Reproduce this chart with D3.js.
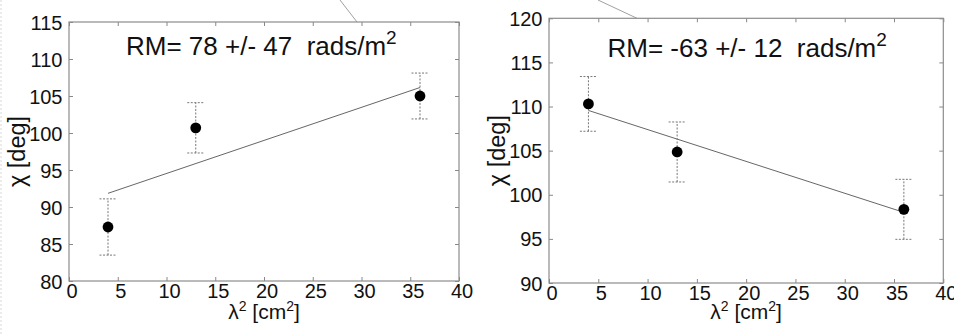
<!DOCTYPE html>
<html>
<head>
<meta charset="utf-8">
<script src="https://cdn.jsdelivr.net/npm/d3@7"></script>
<style>
  html, body { margin: 0; padding: 0; background: #fff; }
  svg { display: block; }
  text { font-family: "Liberation Sans", Arial, Helvetica, sans-serif; fill: #111; }
</style>
</head>
<body>
<svg id="chart" width="954" height="334"></svg>
<script>
// Squared wavelength of each observation, cm^2
const lambdaSq = [4, 13, 36];

// Polarisation angle chi (deg) and its 1-sigma error, first source
const chiA = [87.3, 100.7, 105.0];
const errA = [3.8, 3.4, 3.1];

// Polarisation angle chi (deg) and its 1-sigma error, second source
const chiB = [110.3, 104.85, 98.35];
const errB = [3.1, 3.4, 3.4];

// Fitted rotation measures (rad/m^2), their errors, and fit intercepts (deg)
const rmValues = [78, -63];
const rmErrors = [47, 12];
const fitIntercepts = [90.06, 111.0];

// Axis domains and tick labels
const xDomain = [0, 40];
const xTicks = [0, 5, 10, 15, 20, 25, 30, 35, 40];
const yDomainA = [80, 115];
const yTicksA = [80, 85, 90, 95, 100, 105, 110, 115];
const yDomainB = [90, 120];
const yTicksB = [90, 95, 100, 105, 110, 115, 120];

const svg = d3.select("#chart");

// faint dotted page edge on the far left
svg.append("line")
  .attr("x1", 1).attr("x2", 1).attr("y1", 0).attr("y2", 334)
  .attr("stroke", "#d8d8d8").attr("stroke-width", 1)
  .attr("stroke-dasharray", "2,2");

const DEG_PER_RAD = 180 / Math.PI;
const FONT = '"Liberation Sans", Arial, Helvetica, sans-serif';

function panel(cfg) {
  const { box, yDomain, yTicks, chi, err, rm, rmErr, intercept, pointer, titleDx, titleY } = cfg;
  const x = d3.scaleLinear().domain(xDomain).range([box.left, box.right]);
  const y = d3.scaleLinear().domain(yDomain).range([box.bottom, box.top]);
  const g = svg.append("g");

  // pointer line entering the frame from above
  g.append("line")
    .attr("x1", pointer[0]).attr("y1", pointer[1])
    .attr("x2", pointer[2]).attr("y2", box.top)
    .attr("stroke", "#888").attr("stroke-width", 0.8);

  // inward ticks on all four sides
  const tickLen = 4;
  const axStyle = sel => {
    sel.attr("font-size", null).attr("font-family", null);
    sel.select(".domain").remove();
    sel.selectAll(".tick line").attr("stroke", "#888").attr("stroke-width", 1);
  };
  const bottom = g.append("g").attr("transform", `translate(0,${box.bottom})`)
    .call(d3.axisBottom(x).tickValues(xTicks).tickSize(-tickLen).tickFormat(d3.format("d")));
  axStyle(bottom);
  bottom.selectAll(".tick text")
    .attr("dx", "2.5").attr("y", 16.5).attr("dy", 0)
    .style("font-size", "20px").style("font-family", FONT).style("fill", "#111");

  const top = g.append("g").attr("transform", `translate(0,${box.top})`)
    .call(d3.axisTop(x).tickValues(xTicks).tickSize(-tickLen).tickFormat(""));
  axStyle(top);

  const left = g.append("g").attr("transform", `translate(${box.left},0)`)
    .call(d3.axisLeft(y).tickValues(yTicks).tickSize(-tickLen).tickFormat(d3.format("d")));
  axStyle(left);
  left.selectAll(".tick text")
    .attr("x", -6.5).attr("dy", "0.35em")
    .style("font-size", "20px").style("font-family", FONT).style("fill", "#111");

  const right = g.append("g").attr("transform", `translate(${box.right},0)`)
    .call(d3.axisRight(y).tickValues(yTicks).tickSize(-tickLen).tickFormat(""));
  axStyle(right);

  // frame
  g.append("rect")
    .attr("x", box.left).attr("y", box.top)
    .attr("width", box.right - box.left).attr("height", box.bottom - box.top)
    .attr("fill", "none").attr("stroke", "#8c8c8c").attr("stroke-width", 1.2);

  // linear fit chi = intercept + RM * lambda^2, with RM converted to deg per cm^2
  const slope = rm * 1e-4 * DEG_PER_RAD;
  const xs = d3.extent(lambdaSq);
  g.append("path")
    .datum(xs)
    .attr("d", d3.line().x(d => x(d)).y(d => y(intercept + slope * d)))
    .attr("fill", "none").attr("stroke", "#666").attr("stroke-width", 1);

  // dashed error bars with dashed caps
  const cap = 8.5;
  const bars = g.append("g").attr("stroke", "#777").attr("stroke-width", 1)
    .attr("stroke-dasharray", "2,1.5").attr("fill", "none");
  lambdaSq.forEach((l, i) => {
    const cx = x(l);
    const y0 = y(chi[i] - err[i]), y1 = y(chi[i] + err[i]);
    bars.append("line").attr("x1", cx).attr("x2", cx).attr("y1", y0).attr("y2", y1);
    bars.append("line").attr("x1", cx - cap).attr("x2", cx + cap).attr("y1", y0).attr("y2", y0);
    bars.append("line").attr("x1", cx - cap).attr("x2", cx + cap).attr("y1", y1).attr("y2", y1);
  });

  // measured points
  g.selectAll("circle.pt").data(lambdaSq).join("circle")
    .attr("class", "pt")
    .attr("cx", d => x(d)).attr("cy", (d, i) => y(chi[i]))
    .attr("r", 5.4).attr("fill", "#000");

  // rotation measure annotation
  const t = g.append("text")
    .attr("x", box.left + titleDx).attr("y", titleY)
    .style("font-size", "26px").style("white-space", "pre");
  t.append("tspan").text(`RM= ${rm} +/- ${rmErr}  rads/m`);
  t.append("tspan").style("font-size", "19px").attr("dy", -11).text("2");

  // x axis label: lambda^2 [cm^2]
  const xl = g.append("text")
    .attr("x", (box.left + box.right) / 2).attr("y", 319)
    .attr("text-anchor", "middle").style("font-size", "21px").style("white-space", "pre");
  xl.append("tspan").text("\u03BB");
  xl.append("tspan").style("font-size", "14px").attr("dy", -8).text("2");
  xl.append("tspan").attr("dy", 8).text(" [cm");
  xl.append("tspan").style("font-size", "14px").attr("dy", -8).text("2");
  xl.append("tspan").attr("dy", 8).text("]");

  // y axis label: chi [deg]
  g.append("text")
    .attr("transform", `translate(${box.left - 44},${(box.top + box.bottom) / 2}) rotate(-90)`)
    .attr("text-anchor", "middle").style("font-size", "23.5px")
    .text("\u03C7 [deg]");
}

panel({
  box: { left: 69, right: 459, top: 22, bottom: 281 },
  yDomain: yDomainA, yTicks: yTicksA,
  chi: chiA, err: errA,
  rm: rmValues[0], rmErr: rmErrors[0], intercept: fitIntercepts[0],
  pointer: [340, 0, 357],
  titleDx: 57, titleY: 54.5
});

panel({
  box: { left: 549, right: 943.3, top: 18.3, bottom: 283 },
  yDomain: yDomainB, yTicks: yTicksB,
  chi: chiB, err: errB,
  rm: rmValues[1], rmErr: rmErrors[1], intercept: fitIntercepts[1],
  pointer: [598, 0, 637],
  titleDx: 58.5, titleY: 56.5
});
</script>
</body>
</html>
